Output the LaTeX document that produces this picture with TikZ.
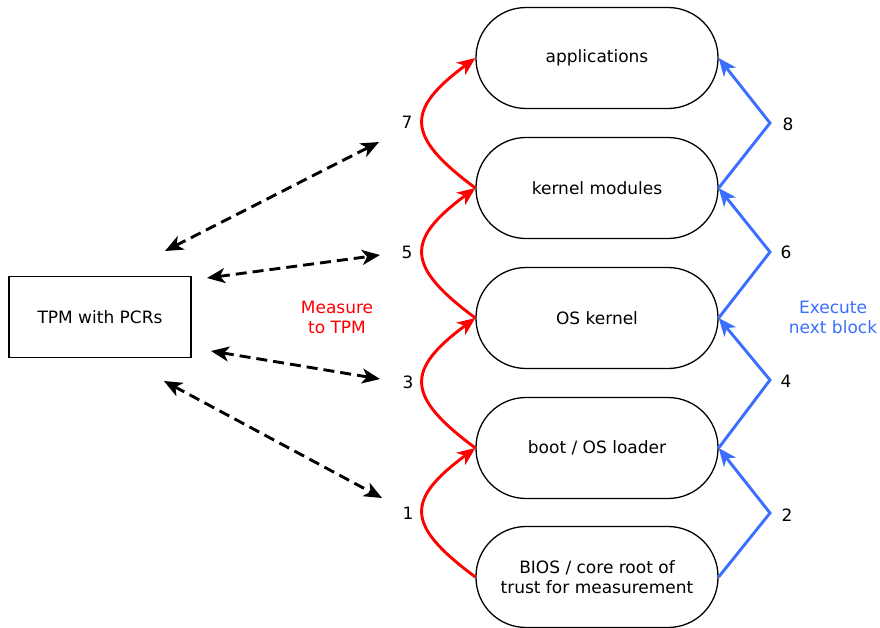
\documentclass[tikz,border=0pt]{standalone}
\usepackage{fontspec}
\setmainfont{DejaVu Sans}
\usetikzlibrary{arrows.meta}
\definecolor{myblue}{RGB}{58,110,255}
\definecolor{myred}{RGB}{255,0,0}
\begin{document}
\begin{tikzpicture}[x=1pt,y=-1pt,
  txt/.style={font=\fontsize{17}{20}\selectfont, align=center, inner sep=0pt},
  stage/.style={txt, draw, line width=1.3pt, rounded corners=50pt, minimum width=242pt, minimum height=101pt},
  tpmbox/.style={txt, draw, line width=1.3pt, minimum width=182pt, minimum height=81pt},
  measure/.style={draw=myred, line width=2.9pt, -{Stealth[length=18pt,width=15pt,inset=5pt]}},
  execute/.style={draw=myblue, line width=2.9pt, line join=miter, -{Stealth[length=18pt,width=15pt,inset=5pt]}},
  extend/.style={draw=black, line width=2.9pt, dash pattern=on 11pt off 6pt, {Stealth[length=18pt,width=15pt,inset=5pt]}-{Stealth[length=18pt,width=15pt,inset=5pt]}},
  num/.style={txt}
]
\useasboundingbox (0,0) rectangle (880,627);

\node[stage] (app)  at (597,58)  {applications};
\node[stage] (km)   at (597,188) {kernel modules};
\node[stage] (os)   at (597,318) {OS kernel};
\node[stage] (boot) at (597,448) {boot / OS loader};
\node[stage] (bios) at (597,577) {BIOS / core root of\\trust for measurement};

\node[tpmbox] (tpm) at (100,317) {TPM with PCRs};

% measure (red)
\draw[measure] (bios.west) .. controls +(-70,-52) and +(-70,52) .. (boot.west);
\draw[measure] (boot.west) .. controls +(-70,-52) and +(-70,52) .. (os.west);
\draw[measure] (os.west) .. controls +(-70,-52) and +(-70,52) .. (km.west);
\draw[measure] (km.west) .. controls +(-70,-52) and +(-70,52) .. (app.west);

% execute (blue)
\coordinate (v2) at (770,513);
\coordinate (v4) at (770,380);
\coordinate (v6) at (770,252);
\coordinate (v8) at (770,123);
\draw[execute] (bios.east) -- (v2) -- (boot.east);
\draw[execute] (boot.east) -- (v4) -- (os.east);
\draw[execute] (os.east) -- (v6) -- (km.east);
\draw[execute] (km.east) -- (v8) -- (app.east);

% numbers
\node[num] (n1) at (408,513) {1};
\node[num] (n3) at (408,382) {3};
\node[num] (n5) at (407,252) {5};
\node[num] (n7) at (407,122) {7};
\node[num] (n2) at (787,515) {2};
\node[num] (n4) at (786,381) {4};
\node[num] (n6) at (786,252) {6};
\node[num] (n8) at (788,124) {8};

% TPM extends
\coordinate (t1) at (165,251);
\coordinate (e7) at (379,142);
\coordinate (t2) at (207,278);
\coordinate (e5) at (380,255);
\coordinate (t3) at (211,351);
\coordinate (e3) at (380,379);
\coordinate (t4) at (164,381);
\coordinate (e1) at (382,498);
\draw[extend] (t1) -- (e7);
\draw[extend] (t2) -- (e5);
\draw[extend] (t3) -- (e3);
\draw[extend] (t4) -- (e1);

% captions
\node[txt, text=myred] (meas) at (337,317) {Measure\\to TPM};
\node[txt, text=myblue] (exec) at (833,317) {Execute\\next block};
\end{tikzpicture}
\end{document}
